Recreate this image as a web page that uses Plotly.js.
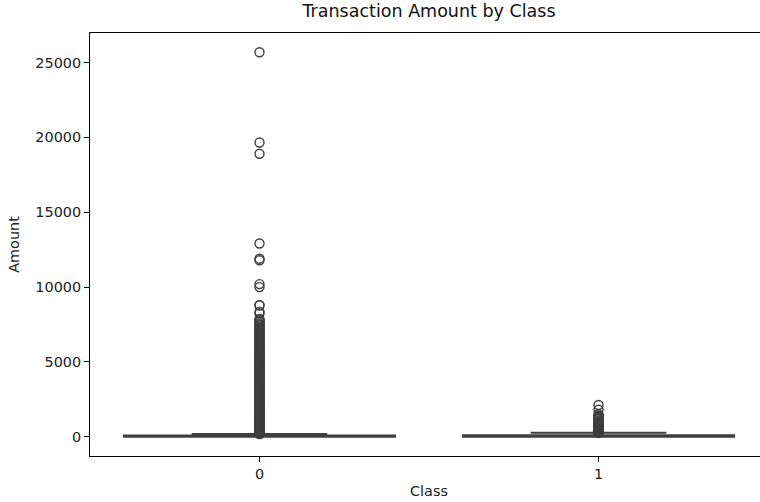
<!DOCTYPE html>
<html>
<head>
<meta charset="utf-8">
<script src="https://cdn.plot.ly/plotly-3.0.1.min.js"></script>
<style>
html, body { margin:0; padding:0; background:#fff; overflow:hidden; width:760px; height:502px; }
#chart { width:770px; height:502px; }
</style>
</head>
<body>
<div id="chart"></div>
<script>
// Categories
const classes = [0, 1];
const classLabels = ['0', '1'];

// Box statistics per class
const q1 = [5.6, 1.0];
const median = [22.0, 9.25];
const q3 = [77.05, 105.89];
const lowerFence = [0.0, 0.0];
const upperFence = [184.5, 261.87];

// Outliers for class 0
const outliers0 = [185.5, 192.3, 199.0, 207.4, 215.6, 228.0, 239.93, 251.2, 262.0, 275.5, 289.9, 299.0,
  310.0, 327.6, 345.0, 361.2, 377.5, 393.4, 410.0, 431.0, 452.0, 470.1, 489.97, 510.0, 530.0, 552.3,
  575.0, 598.0, 620.55, 645.0, 670.0, 694.9, 720.0, 749.0, 779.9, 805.0, 830.0, 859.5, 889.0, 919.0,
  950.0, 975.4, 999.99, 1030.0, 1060.0, 1090.2, 1120.5, 1154.0, 1188.0, 1219.0, 1250.0, 1285.0, 1320.0,
  1355.0, 1389.5, 1420.0, 1450.0, 1485.0, 1520.0, 1560.0, 1599.0, 1635.0, 1670.5, 1705.0, 1740.0,
  1775.0, 1810.0, 1850.0, 1890.0, 1925.0, 1960.0, 2000.0, 2040.0, 2080.0, 2120.0, 2160.0, 2199.0,
  2240.0, 2280.0, 2320.0, 2360.5, 2400.0, 2445.0, 2488.0, 2530.0, 2570.0, 2610.0, 2655.0, 2700.0,
  2740.0, 2785.0, 2828.0, 2870.0, 2910.0, 2950.0, 2995.0, 3040.0, 3085.0, 3130.0, 3175.0, 3220.0,
  3265.0, 3310.0, 3355.0, 3400.0, 3445.0, 3490.0, 3535.0, 3580.0, 3628.0, 3675.0, 3722.0, 3770.0,
  3815.0, 3860.0, 3905.0, 3950.0, 3995.0, 4040.0, 4085.0, 4130.0, 4175.0, 4220.0, 4265.0, 4310.0,
  4355.0, 4400.0, 4445.0, 4490.0, 4535.0, 4580.0, 4625.0, 4670.0, 4715.0, 4760.0, 4805.0, 4850.0,
  4895.0, 4940.0, 4985.0, 5030.0, 5075.0, 5120.0, 5165.0, 5210.0, 5255.0, 5300.0, 5350.0, 5400.0,
  5450.0, 5500.0, 5550.0, 5600.0, 5655.0, 5710.0, 5765.0, 5820.0, 5875.0, 5930.0, 5990.0, 6050.0,
  6110.0, 6170.0, 6235.0, 6300.0, 6360.0, 6420.0, 6490.0, 6560.0, 6630.0, 6700.0, 6765.0, 6830.0,
  6905.0, 6980.0, 7040.0, 7100.0, 7170.0, 7240.0, 7310.0, 7375.0, 7440.0, 7500.0, 7575.0, 7678.18,
  7712.43, 7766.6, 7879.42, 8242.14, 8360.0, 8787.0, 8790.26, 10000.0, 10199.44, 11789.84, 11898.09,
  12910.93, 18910.0, 19656.53, 25691.16];

// Outliers for class 1
const outliers1 = [270.0, 283.0, 296.0, 310.42, 324.59, 339.9, 354.33, 364.19, 377.0, 390.0, 412.2,
  428.0, 444.17, 462.0, 480.0, 496.0, 512.25, 519.9, 545.0, 567.0, 592.9, 612.0, 634.3, 657.0, 680.0,
  699.0, 717.15, 720.8, 723.21, 739.0, 766.36, 776.83, 800.0, 829.41, 870.0, 925.31, 960.0, 996.27,
  1045.0, 1096.99, 1160.0, 1218.89, 1280.0, 1335.0, 1354.25, 1389.56, 1402.16, 1504.93, 1809.68, 2125.87];

const lineColor = '#3f3f3f';

const boxTrace = {
  type: 'box',
  x: classes,
  q1: q1,
  median: median,
  q3: q3,
  lowerfence: lowerFence,
  upperfence: upperFence,
  width: 0.8,
  whiskerwidth: 0.5,
  boxpoints: false,
  fillcolor: '#1f77b4',
  line: { color: lineColor, width: 2 },
  hoverinfo: 'skip',
  showlegend: false
};

function outlierTrace(cls, vals) {
  return {
    type: 'scatter',
    mode: 'markers',
    x: vals.map(() => cls),
    y: vals,
    marker: { symbol: 'circle-open', size: 9, color: lineColor, line: { width: 1.4, color: lineColor } },
    hoverinfo: 'skip',
    showlegend: false
  };
}

const data = [outlierTrace(classes[0], outliers0), outlierTrace(classes[1], outliers1), boxTrace];

const axisFont = { family: 'DejaVu Sans, sans-serif', size: 14.4, color: '#222' };

const layout = {
  width: 770,
  height: 502,
  margin: { l: 90, r: 2, t: 33, b: 46 },
  paper_bgcolor: '#fff',
  plot_bgcolor: '#fff',
  font: { family: 'DejaVu Sans, sans-serif', color: '#222' },
  title: {
    text: 'Transaction Amount by Class',
    font: { family: 'DejaVu Sans, sans-serif', size: 17.5, color: '#111' },
    x: 0.5, xref: 'paper', xanchor: 'center',
    y: 1, yref: 'container', yanchor: 'top', pad: { t: 5 }
  },
  xaxis: {
    range: [-0.5, 1.5],
    tickmode: 'array',
    tickvals: classes,
    ticktext: classLabels,
    ticks: 'outside', ticklen: 5, tickwidth: 1, tickcolor: '#000',
    showgrid: false, zeroline: false,
    showline: true, linecolor: '#000', linewidth: 1, mirror: true,
    tickfont: axisFont,
    title: { text: 'Class', font: axisFont, standoff: 4 }
  },
  yaxis: {
    range: [-1284.6, 26975.6],
    tickmode: 'array',
    tickvals: [0, 5000, 10000, 15000, 20000, 25000],
    ticktext: ['0', '5000', '10000', '15000', '20000', '25000'],
    ticks: 'outside', ticklen: 5, tickwidth: 1, tickcolor: '#000',
    showgrid: false, zeroline: false,
    showline: true, linecolor: '#000', linewidth: 1, mirror: true,
    tickfont: axisFont,
    title: { text: 'Amount', font: axisFont, standoff: 12 }
  }
};

Plotly.newPlot('chart', data, layout, { displayModeBar: false, staticPlot: true });
</script>
</body>
</html>
